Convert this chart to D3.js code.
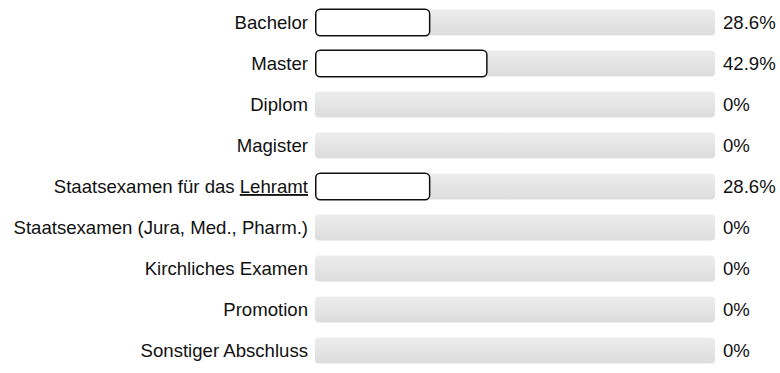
<!DOCTYPE html>
<html>
<head>
<meta charset="utf-8">
<script src="https://cdn.jsdelivr.net/npm/d3@7"></script>
<style>
  body { margin: 0; background: #fff; }
  text { font-family: "Liberation Sans", Arial, sans-serif; font-size: 18.6px; fill: #111; }
</style>
</head>
<body>
<div id="chart"></div>
<script>
// answer options and their shares (%)
var categories = ["Bachelor", "Master", "Diplom", "Magister", "Staatsexamen für das Lehramt",
  "Staatsexamen (Jura, Med., Pharm.)", "Kirchliches Examen", "Promotion", "Sonstiger Abschluss"];
var values = [28.6, 42.9, 0, 0, 28.6, 0, 0, 0, 0];
var valueLabels = ["28.6%", "42.9%", "0%", "0%", "28.6%", "0%", "0%", "0%", "0%"];

var width = 780, height = 373;
var margin = { top: 2, left: 315, right: 64 };

var svg = d3.select("#chart").append("svg")
  .attr("width", width)
  .attr("height", height);

var defs = svg.append("defs");
var grad = defs.append("linearGradient")
  .attr("id", "track")
  .attr("x1", 0).attr("y1", 0).attr("x2", 0).attr("y2", 1);
grad.append("stop").attr("offset", "0%").attr("stop-color", "#ededed");
grad.append("stop").attr("offset", "100%").attr("stop-color", "#dcdcdc");

var x = d3.scaleLinear().domain([0, 100]).range([margin.left, width - margin.right - 1]);
var y = d3.scaleBand().domain(categories).range([margin.top, margin.top + 41 * categories.length]).paddingInner(0.36).paddingOuter(0.18);

var rows = svg.selectAll("g.row")
  .data(categories)
  .join("g")
  .attr("class", "row");

// grey track
rows.append("rect")
  .attr("x", x(0))
  .attr("y", d => y(d))
  .attr("width", x(100) - x(0))
  .attr("height", y.bandwidth())
  .attr("rx", 4)
  .attr("fill", "url(#track)");

// answer bar
rows.filter((d, i) => values[i] > 0)
  .append("rect")
  .attr("x", x(0) + 0.75)
  .attr("y", d => y(d) - 0.25)
  .attr("width", (d) => x(values[categories.indexOf(d)]) - x(0) - 0.5)
  .attr("height", y.bandwidth() + 0.5)
  .attr("rx", 4.5)
  .attr("fill", "#fff")
  .attr("stroke", "#111")
  .attr("stroke-width", 1.5);

// category labels
rows.append("text")
  .attr("x", x(0) - 7)
  .attr("y", d => y(d) + y.bandwidth() / 2)
  .attr("dy", "0.35em")
  .attr("text-anchor", "end")
  .each(function (d) {
    var t = d3.select(this);
    if (d.endsWith("Lehramt")) {
      t.append("tspan").text(d.replace("Lehramt", ""));
      t.append("tspan").attr("text-decoration", "underline").text("Lehramt");
    } else {
      t.text(d);
    }
  });

// percentages
rows.append("text")
  .attr("x", x(100) + 8)
  .attr("y", d => y(d) + y.bandwidth() / 2)
  .attr("dy", "0.35em")
  .text((d, i) => valueLabels[i]);
</script>
</body>
</html>
